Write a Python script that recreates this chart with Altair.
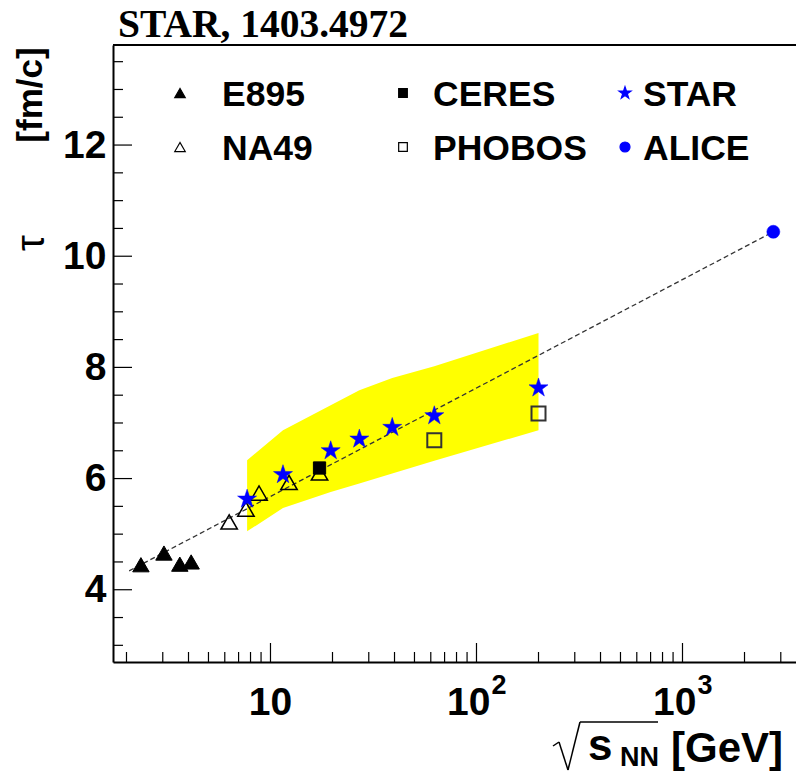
import math
import altair as alt
import pandas as pd

# sqrt(s_NN) in GeV and the source lifetime tau in fm/c
e895_energy = [2.35, 3.04, 3.63, 4.12]
e895_tau = [4.45, 4.66, 4.46, 4.50]
na49_energy = [6.3, 7.6, 8.8, 12.3, 17.3]
na49_tau = [5.22, 5.45, 5.74, 5.93, 6.10]
ceres_energy = [17.3]
ceres_tau = [6.19]
star_energy = [7.7, 11.5, 19.6, 27.0, 39.0, 62.4, 200.0]
star_tau = [5.63, 6.07, 6.50, 6.71, 6.92, 7.13, 7.63]
phobos_energy = [62.4, 200.0]
phobos_tau = [6.69, 7.17]
alice_energy = [2760.0]
alice_tau = [10.44]

# systematic band of the STAR points
band_energy = [7.7, 11.5, 19.6, 27.0, 39.0, 62.4, 200.0]
band_upper = [6.33, 6.87, 7.32, 7.59, 7.81, 8.02, 8.62]
band_lower = [5.05, 5.47, 5.76, 5.91, 6.09, 6.32, 6.87]

# straight-line fit in log(sqrt(s_NN))
fit_energy = [2.06, 2760.0]
fit_tau = [4.34, 10.44]

x_major = [10, 100, 1000]
x_exponent = ["", "2", "3"]
x_minor = [2, 3, 4, 5, 6, 7, 8, 9, 20, 30, 40, 50, 60, 70, 80, 90,
           200, 300, 400, 500, 600, 700, 800, 900, 2000, 3000]
y_major = [4, 6, 8, 10, 12]
y_minor = [3, 3.5, 4.5, 5, 5.5, 6.5, 7, 7.5, 8.5, 9, 9.5, 10.5, 11, 11.5,
           12.5, 13, 13.5]

W, H = 683, 617
L, T = 113, 45
SANS = "Liberation Sans"

# five-pointed star as an SVG path in the unit box
_pts = []
for k in range(10):
    r = 1.0 if k % 2 == 0 else 0.382
    a = math.radians(-90 + 36 * k)
    _pts.append(f"{r * math.cos(a):.4f},{r * math.sin(a):.4f}")
STAR_PATH = "M" + "L".join(_pts) + "Z"

xs = alt.Scale(type="log", domain=[1.72, 3556], nice=False)
ys = alt.Scale(domain=[2.70, 13.8], nice=False, zero=False)

x_axis = alt.Axis(values=x_major, ticks=False, grid=False, domain=True,
                  domainColor="black", domainWidth=2, title=None, labels=False)
y_axis = alt.Axis(values=y_major, ticks=False, grid=False, domain=True,
                  domainColor="black", domainWidth=2, title=None,
                  labelFont=SANS, labelFontWeight="bold", labelFontSize=39,
                  labelColor="black", labelPadding=7)


def X(field="sqrt_s"):
    return alt.X(f"{field}:Q", scale=xs, axis=x_axis)


def Y(field="tau"):
    return alt.Y(f"{field}:Q", scale=ys, axis=y_axis)


band = alt.Chart(pd.DataFrame({"sqrt_s": band_energy, "hi": band_upper, "lo": band_lower})).mark_area(
    color="#ffff00", opacity=1
).encode(x=X(), y=Y("hi"), y2="lo:Q")

fit = alt.Chart(pd.DataFrame({"sqrt_s": fit_energy, "tau": fit_tau})).mark_line(
    color="#333333", strokeWidth=1.3, strokeDash=[5, 3]
).encode(x=X(), y=Y())


def points(energy, tau, shape, size, fill, stroke, sw=1.5):
    return alt.Chart(pd.DataFrame({"sqrt_s": energy, "tau": tau})).mark_point(
        shape=shape, size=size, fill=fill, stroke=stroke, strokeWidth=sw,
        opacity=1, fillOpacity=1
    ).encode(x=X(), y=Y())


marks = [
    points(e895_energy, e895_tau, "triangle-up", 270, "black", "black", 1),
    points(na49_energy, na49_tau, "triangle-up", 270, "transparent", "black", 1.5),
    points(ceres_energy, ceres_tau, "square", 150, "black", "black", 1),
    points(phobos_energy, phobos_tau, "square", 196, "transparent", "#333333", 2),
    points(star_energy, star_tau, STAR_PATH, 400, "#0000ff", "#0000ff", 0.5),
    points(alice_energy, alice_tau, "circle", 170, "#0000ff", "#0000ff", 0.5),
]


# inward-pointing ticks in ROOT style
def xticks(vals, length):
    return alt.Chart(pd.DataFrame({"sqrt_s": vals})).mark_rule(color="black", strokeWidth=1.2).encode(
        x=X(), y=alt.value(H), y2=alt.value(H - length))


def yticks(vals, length):
    return alt.Chart(pd.DataFrame({"tau": vals})).mark_rule(color="black", strokeWidth=1.2).encode(
        y=Y(), x=alt.value(0), x2=alt.value(length))


ticks = [xticks(x_major, 19), xticks(x_minor, 10), yticks(y_major, 19), yticks(y_minor, 10)]

# x tick labels written as 10, 10^2, 10^3
xlab = pd.DataFrame({"sqrt_s": x_major, "exp": x_exponent})
xlab["base"] = "10"
base_plain = alt.Chart(xlab[xlab["exp"] == ""]).mark_text(
    align="center", baseline="alphabetic", font=SANS, fontWeight="bold", fontSize=39, color="black"
).encode(x=X(), y=alt.value(H + 53), text="base:N")
base_pow = alt.Chart(xlab[xlab["exp"] != ""]).mark_text(
    align="right", baseline="alphabetic", font=SANS, fontWeight="bold", fontSize=39, color="black", dx=14
).encode(x=X(), y=alt.value(H + 53), text="base:N")
sup_pow = alt.Chart(xlab[xlab["exp"] != ""]).mark_text(
    align="left", baseline="alphabetic", font=SANS, fontWeight="bold", fontSize=27, color="black", dx=15
).encode(x=X(), y=alt.value(H + 32), text="exp:N")

ONE = pd.DataFrame({"a": [0]})


def segment(x1, y1, x2, y2, width=2.0):
    return alt.Chart(ONE).mark_rule(color="black", strokeWidth=width).encode(
        x=alt.value(x1 - L), y=alt.value(y1 - T), x2=alt.value(x2 - L), y2=alt.value(y2 - T))


top_line = segment(L, T, L + W, T)


def symbol(x, y, shape, size, fill, stroke):
    return alt.Chart(ONE).mark_point(
        shape=shape, size=size, fill=fill, stroke=stroke, strokeWidth=1.2,
        opacity=1, fillOpacity=1
    ).encode(x=alt.value(x - L), y=alt.value(y - T))


def label(txt, x, y, size, weight="bold", font=SANS, angle=0, align="left", baseline="alphabetic"):
    kw = dict(align=align, baseline=baseline, font=font, fontWeight=weight,
              fontSize=size, color="black", text=txt)
    if angle:
        kw["angle"] = angle
    return alt.Chart(ONE).mark_text(**kw).encode(x=alt.value(x - L), y=alt.value(y - T))


# legend: three columns, two rows
legend_names = ["E895", "NA49", "CERES", "PHOBOS", "STAR", "ALICE"]
legend_shapes = ["triangle-up", "triangle-up", "square", "square", STAR_PATH, "circle"]
legend_fill = ["black", "transparent", "black", "transparent", "#0000ff", "#0000ff"]
legend_stroke = ["black", "black", "black", "black", "#0000ff", "#0000ff"]
legend_size = [110, 110, 75, 75, 160, 100]
sym_x = [180, 180, 403, 403, 625, 625]
lab_x = [222, 222, 433, 433, 643, 643]
row_y = [93, 147, 93, 147, 93, 147]

legend_layers = []
for i, name in enumerate(legend_names):
    legend_layers.append(symbol(sym_x[i], row_y[i], legend_shapes[i], legend_size[i],
                                legend_fill[i], legend_stroke[i]))
    legend_layers.append(label(name, lab_x[i], row_y[i] + 13, 35.5))

texts = [
    label("STAR, 1403.4972", 118, 37, 39.5, font="Liberation Serif"),
    label("[fm/c]", 42, 95, 35, angle=270, align="center"),
    label("τ", 44, 243, 40, weight="normal", angle=270, align="center"),
    label("s", 588, 760, 44),
    label("NN", 620, 766, 27),
    label("[GeV]", 671, 762, 42),
]

# radical sign over s_NN
radical = [
    segment(553, 746, 559, 742, 1.5),
    segment(559, 742, 568, 770, 1.5),
    segment(568, 770, 580, 722, 1.5),
    segment(580, 722, 658, 722, 1.5),
]

chart = alt.layer(
    band, fit, *marks, *ticks, base_plain, base_pow, sup_pow, top_line,
    *legend_layers, *texts, *radical
).properties(
    width=W, height=H,
    autosize=alt.AutoSizeParams(type="none"),
    padding={"left": L, "top": T, "right": 0, "bottom": 112},
).configure_view(stroke=None).configure(background="white")

chart.save("out.html", embed_options={"renderer": "svg", "actions": False})
